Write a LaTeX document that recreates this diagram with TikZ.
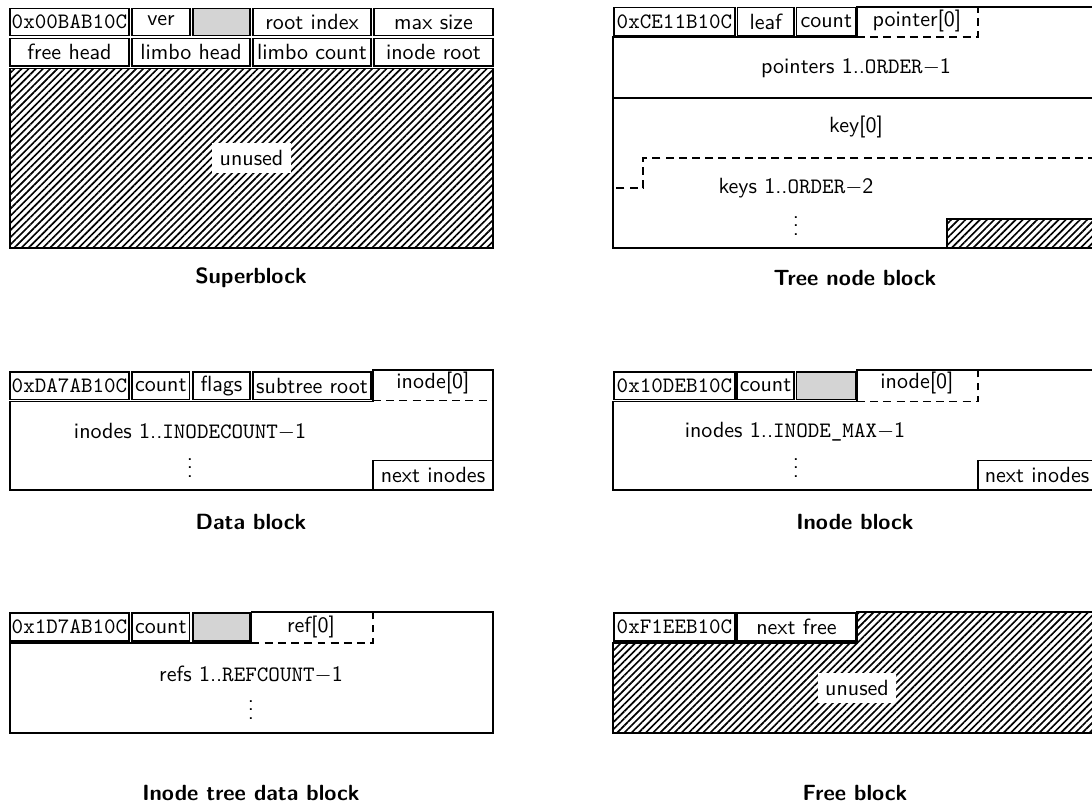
\documentclass[tikz,border=0pt]{standalone}
\usetikzlibrary{patterns.meta}
\renewcommand{\familydefault}{\sfdefault}
\newcommand{\pxu}{0.4545pt}
\newcommand{\dotcol}{\vbox{\baselineskip4pt\lineskiplimit0pt\hbox{.}\hbox{.}\hbox{.}}}
\tikzset{
  fieldbox/.style={draw, line width=0.8pt, inner sep=0pt},
  padbox/.style={fieldbox, fill=black!17},
  frameline/.style={line width=0.8pt},
  dashline/.style={line width=0.8pt, dash pattern=on 3.6pt off 2.4pt},
  hatchfill/.style={pattern={Lines[angle=45,distance=2.3pt,line width=0.75pt]}},
  whitelabel/.style={fill=white, inner sep=3.3pt},
  caption/.style={font=\bfseries},
  plain/.style={inner sep=0pt},
}
\newcommand\fld[7]{\node[#6, minimum width={((#4)-(#2))*\pxu}, minimum height={((#5)-(#3))*\pxu}] (#1) at ({((#2)+(#4))/2},{((#3)+(#5))/2}) {#7};}
\begin{document}
\begin{tikzpicture}[x=0.4545pt, y=-0.4545pt]
\useasboundingbox (0,0) rectangle (1092,806);
\clip (0,0) rectangle (1092,806);

% ---------------- Superblock ----------------
\fld{sbmagic}{10}{8.5}{129}{35.5}{fieldbox}{\texttt{0x00BAB10C}}
\fld{sbver}{132}{8.5}{190}{35.5}{fieldbox}{\raisebox{1.8pt}{ver}}
\fld{sbpad}{193}{8.5}{250}{35.5}{padbox}{}
\fld{sbroot}{253}{8.5}{371}{35.5}{fieldbox}{root index}
\fld{sbmax}{374}{8.5}{493}{35.5}{fieldbox}{max size}
\fld{sbfree}{10}{38.5}{129}{66}{fieldbox}{free head}
\fld{sblimbo}{132}{38.5}{250}{66}{fieldbox}{limbo head}
\fld{sblcount}{253}{38.5}{371}{66}{fieldbox}{limbo count}
\fld{sbinode}{374}{38.5}{493}{66}{fieldbox}{inode root}
\fld{sbarea}{10}{68.5}{493}{248}{fieldbox, hatchfill}{}
\node[whitelabel] (sbunused) at (sbarea) {unused};
\node[caption] (sbcap) at (251,278) {Superblock};

% ---------------- Tree node block ----------------
\fld{tnmagic}{614}{7.5}{735}{35.5}{fieldbox}{\texttt{0xCE11B10C}}
\fld{tnleaf}{737.5}{7.5}{794}{35.5}{fieldbox}{leaf}
\fld{tncount}{796.5}{7.5}{856}{35.5}{fieldbox}{count}
\draw[frameline] (857,7) -- (1096,7) -- (1096,248) -- (613,248) -- (613,37) -- (857,37) -- cycle;
\draw[dashline] (857,37) -- (978,37) -- (978,7);
\node (tnptr0) at (917,21) {pointer[0]};
\draw[frameline] (613,98) -- (1096,98);
\node (tnptrs) at (856,68) {pointers 1..\texttt{ORDER}$-$1};
\node (tnkey0) at (856,127) {key[0]};
\draw[dashline] (1096,158) -- (643,158) -- (643,188) -- (613,188);
\node (tnkeys) at (796,188) {keys 1..\texttt{ORDER}$-$2};
\node[plain] (tndots) at (796,226) {\dotcol};
\fld{tnunused}{947}{219}{1096}{248}{fieldbox, hatchfill}{}
\node[caption] (tncap) at (855,278) {Tree node block};

% ---------------- Data block ----------------
\fld{dbmagic}{10}{372}{129}{399.5}{fieldbox}{\texttt{0xDA7AB10C}}
\fld{dbcount}{132}{372}{189.5}{399.5}{fieldbox}{count}
\fld{dbflags}{193}{372}{250}{399.5}{fieldbox}{flags}
\fld{dbsub}{253}{372}{371}{399.5}{fieldbox}{subtree root}
\draw[frameline] (373,370) -- (493,370) -- (493,490) -- (10,490) -- (10,401.5) -- (373,401.5) -- cycle;
\draw[dashline] (373,400.5) -- (493,400.5);
\node (dbino0) at (433,383) {inode[0]};
\fld{dbnext}{373}{460.5}{493}{490}{fieldbox, fill=white}{next inodes}
\node (dbinodes) at (190,432) {inodes 1..\texttt{INODECOUNT}$-$1};
\node[plain] (dbdots) at (190,468) {\dotcol};
\node[caption] (dbcap) at (251,522) {Data block};

% ---------------- Inode block ----------------
\fld{ibmagic}{614}{372}{735}{399.5}{fieldbox}{\texttt{0x10DEB10C}}
\fld{ibcount}{737}{372}{794}{399.5}{fieldbox}{count}
\fld{ibpad}{796.5}{372}{856}{399.5}{padbox}{}
\draw[frameline] (857,370) -- (1096,370) -- (1096,490) -- (613,490) -- (613,401.5) -- (857,401.5) -- cycle;
\draw[dashline] (857,401.5) -- (978,401.5) -- (978,370);
\node (ibino0) at (917,383) {inode[0]};
\fld{ibnext}{978}{460.5}{1096}{490}{fieldbox, fill=white}{next inodes}
\node (ibinodes) at (795,432) {inodes 1..\texttt{INODE\_MAX}$-$1};
\node[plain] (ibdots) at (796,468) {\dotcol};
\node[caption] (ibcap) at (855,522) {Inode block};

% ---------------- Inode tree data block ----------------
\fld{itmagic}{10}{613}{129}{641}{fieldbox}{\texttt{0x1D7AB10C}}
\fld{itcount}{132}{613}{189.5}{641}{fieldbox}{count}
\fld{itpad}{193}{613}{250}{641}{padbox}{}
\draw[frameline] (251.5,612) -- (493,612) -- (493,733) -- (10,733) -- (10,643) -- (251.5,643) -- cycle;
\draw[dashline] (251.5,643) -- (373,643) -- (373,612);
\node (itref0) at (311,627) {ref[0]};
\node (itrefs) at (251,675) {refs 1..\texttt{REFCOUNT}$-$1};
\node[plain] (itdots) at (251,710) {\dotcol};
\node[caption] (itcap) at (251,793) {Inode tree data block};

% ---------------- Free block ----------------
\draw[frameline, hatchfill] (857,612) -- (1096,612) -- (1096,733) -- (613,733) -- (613,643) -- (857,643) -- cycle;
\fld{fbmagic}{614}{613}{735}{641}{fieldbox, fill=white}{\texttt{0xF1EEB10C}}
\fld{fbnext}{737}{613}{856}{641}{fieldbox, fill=white}{next free}
\node[whitelabel] (fbunused) at (857,688) {unused};
\node[caption] (fbcap) at (855,793) {Free block};
\end{tikzpicture}
\end{document}
